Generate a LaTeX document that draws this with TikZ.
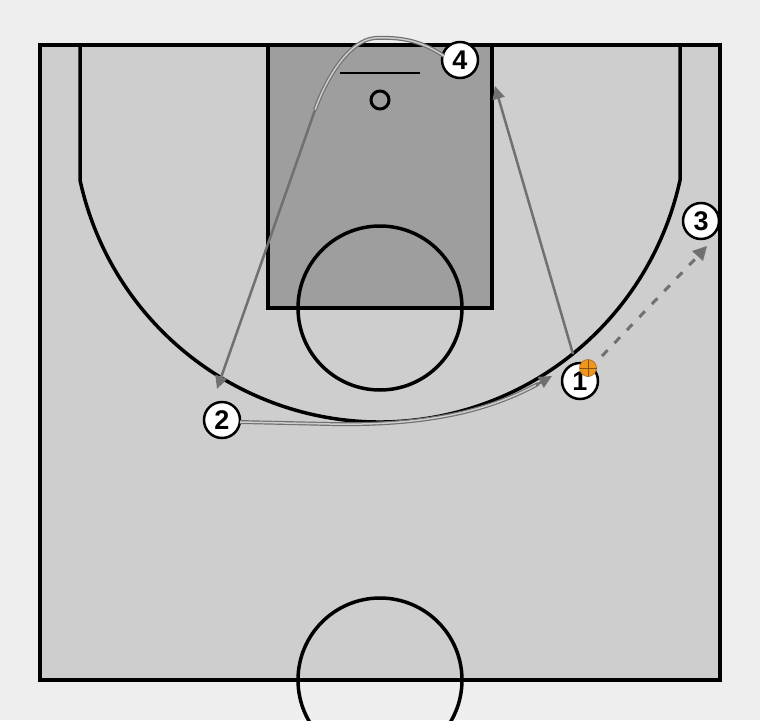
\documentclass[tikz,border=0pt]{standalone}
\usepackage{fontspec}
\setmainfont{Liberation Sans}
\usetikzlibrary{arrows.meta}
\definecolor{courtbg}{RGB}{206,206,206}
\definecolor{lanebg}{RGB}{158,158,158}
\definecolor{outbg}{RGB}{238,238,238}
\definecolor{pathgray}{RGB}{112,112,112}
\definecolor{pathlight}{RGB}{205,205,205}
\definecolor{ballorange}{RGB}{240,150,30}
\tikzset{
  courtline/.style={draw=black, line width=3.5pt},
  player/.style={circle, draw=black, line width=2.5pt, fill=white, minimum size=36pt, inner sep=0pt, font=\bfseries\fontsize{27}{27}\selectfont},
  cutpath/.style={draw=pathgray, line width=2.5pt},
  dblpath/.style={draw=pathgray, line width=1.2pt, double=pathlight, double distance=1.5pt},
  passpath/.style={draw=pathgray, line width=3pt, dash pattern=on 8pt off 10pt},
  tip/.style={-{Triangle[length=13pt,width=12pt]}},
}
\begin{document}
\begin{tikzpicture}[x=1pt,y=-1pt]
\useasboundingbox (0,0) rectangle (760,720);
\fill[outbg] (0,0) rectangle (760,720);
% court
\fill[courtbg] (40,45) rectangle (720,680);
\fill[lanebg] (268,45) rectangle (492,308);
\begin{scope}
\clip (0,0) rectangle (760,720);
\draw[courtline] (380,680) circle[radius=82];
\end{scope}
\draw[courtline] (40,45) rectangle (720,680);
\draw[courtline] (268,45) rectangle (492,308);
\draw[courtline] (380,308) circle[radius=82];
% three point line
\draw[courtline] (80,45) -- (80,180) arc[start angle=167.77, end angle=12.23, radius=307] -- (680,45);
% basket
\draw[black, line width=1.8pt] (340,73) -- (420,73);
\draw[black, line width=3pt] (380,100) circle[radius=9];
% nodes
\node[player] (p4) at (460,60) {4};
\node[player] (p3) at (701,221) {3};
\node[player] (p2) at (222,420) {2};
\node[player] (p1) at (580,381) {1};
\coordinate (c1s) at (573,354);
\coordinate (c1e) at (495,86);
\coordinate (c4s) at (444,56);
\coordinate (c4m) at (315,110);
\coordinate (c4e) at (217,389);
\coordinate (c2s) at (240,422);
\coordinate (c2e) at (552,376);
\coordinate (pss) at (602,356);
\coordinate (pse) at (707,246);
% paths
\draw[cutpath, tip] (c1s) -- (c1e);
\draw[dblpath] (c4s) .. controls (420,40) and (400,37) .. (375,38) .. controls (350,40) and (327,76) .. (c4m);
\draw[cutpath, tip] (c4m) -- (c4e);
\draw[dblpath] (c2s) -- (330,424) .. controls (430,426) and (490,410) .. (538,384);
\draw[cutpath, tip] (536,385) -- (c2e);
\draw[passpath] (pss) -- (697,257);
\draw[draw=none, fill=pathgray] (pse) -- (692,251) -- (703,261) -- cycle;
% ball
\node[circle, fill=ballorange, draw=ballorange!70!black, line width=0.6pt, minimum size=17pt, inner sep=0pt] (ball) at (588,368) {};
\draw[ballorange!55!black, line width=0.6pt] (579.5,368) -- (596.5,368) (588,359.5) -- (588,376.5);
\end{tikzpicture}
\end{document}
